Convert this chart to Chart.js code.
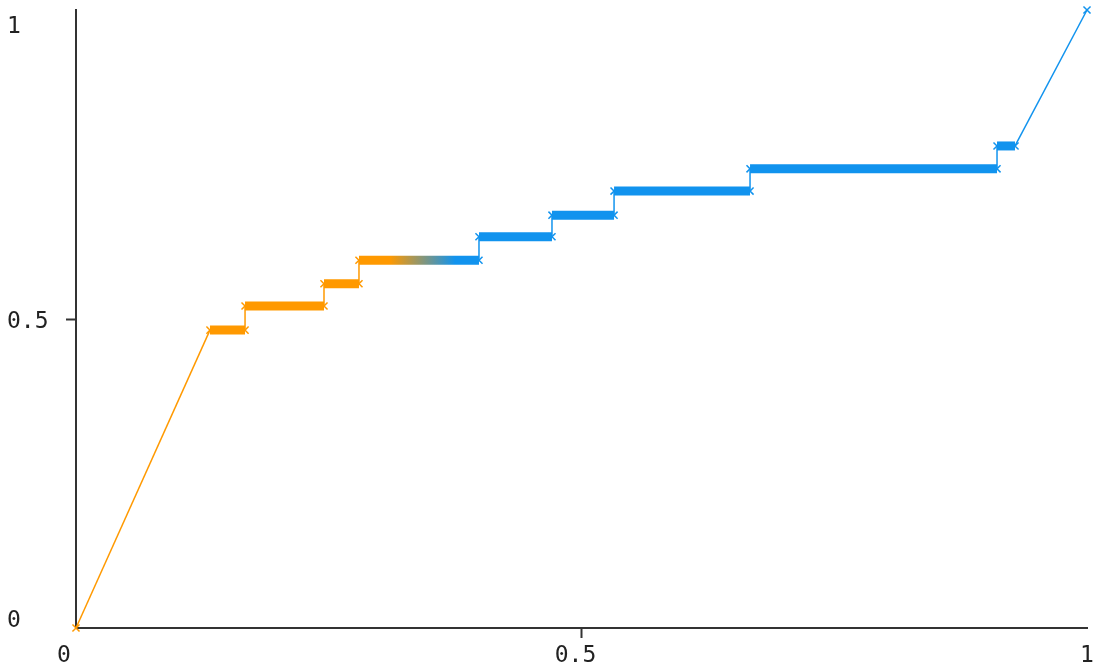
<!DOCTYPE html>
<html>
<head>
<meta charset="utf-8">
<script src="https://cdn.jsdelivr.net/npm/chart.js@4.4.0/dist/chart.umd.min.js"></script>
<style>
  body { margin: 0; background: #fff; }
  canvas { display: block; }
</style>
</head>
<body>
<canvas id="myChart" width="1099" height="671"></canvas>
<script>
// curve corners
const curveX = [0, 0.1325, 0.1672, 0.1672, 0.2453, 0.2453, 0.2799, 0.2799, 0.3986, 0.3986, 0.4708, 0.4708, 0.5322, 0.5322, 0.6667, 0.6667, 0.911, 0.911, 0.9288, 1];
const curveY = [0, 0.482, 0.482, 0.521, 0.521, 0.557, 0.557, 0.595, 0.595, 0.633, 0.633, 0.668, 0.668, 0.707, 0.707, 0.743, 0.743, 0.780, 0.780, 1];
const tickValues = [0, 0.5, 1];
const tickLabels = ['0', '0.5', '1'];

const orange = '#ff9900';
const blue = '#1193ee';

var points = [];
for (let i = 0; i < curveX.length; i++) {
    points.push({x: curveX[i], y: curveY[i]});
}

var gradient = null;
getGradient = (chart) => {
    const area = chart.chartArea;
    if (!area) return orange;
    if (!gradient) {
        gradient = chart.ctx.createLinearGradient(area.left, 0, area.right, 0);
        gradient.addColorStop(0, orange);
        gradient.addColorStop(0.31, orange);
        gradient.addColorStop(0.375, blue);
        gradient.addColorStop(1, blue);
    }
    return gradient;
}

tickColor = (c) => c.tick && c.tick.value === 0.5 ? '#333' : 'rgba(0,0,0,0)';

// text of the ticks, drawn by hand so it can sit like the original
const tickText = {
    id: 'tickText',
    afterDraw(chart) {
        const ctx = chart.ctx;
        const xs = chart.scales.x;
        const ys = chart.scales.y;
        const yShift = [-1, 9, 23];
        const xShift = [-12, -6, 0];
        ctx.save();
        ctx.font = '23px "DejaVu Sans Mono"';
        ctx.fillStyle = '#222';
        ctx.textBaseline = 'alphabetic';
        ctx.textAlign = 'left';
        for (let i = 0; i < tickValues.length; i++) {
            ctx.fillText(tickLabels[i], 7, ys.getPixelForValue(tickValues[i]) + yShift[i]);
        }
        ctx.textAlign = 'center';
        for (let i = 0; i < tickValues.length; i++) {
            ctx.fillText(tickLabels[i], xs.getPixelForValue(tickValues[i]) + xShift[i], 662);
        }
        ctx.restore();
    }
};

const ctx = document.getElementById('myChart');
new Chart(ctx, {
    type: 'scatter',
    data: {
        datasets: [{
            data: points,
            showLine: true,
            clip: false,
            borderWidth: 1.5,
            borderColor: (c) => getGradient(c.chart),
            pointBorderColor: (c) => getGradient(c.chart),
            pointBackgroundColor: 'rgba(0,0,0,0)',
            pointStyle: 'crossRot',
            pointRadius: 5,
            pointBorderWidth: 1.5,
            borderCapStyle: 'butt',
            segment: {
                borderWidth: (c) => c.p0.parsed.y === c.p1.parsed.y ? 9 : 1.5
            }
        }]
    },
    options: {
        responsive: false,
        animation: false,
        layout: { padding: { top: 10, right: 12, left: 0, bottom: 0 } },
        plugins: { legend: { display: false }, tooltip: { enabled: false } },
        scales: {
            x: {
                type: 'linear', min: 0, max: 1,
                ticks: { stepSize: 0.5, display: false },
                border: { color: '#333', width: 2 },
                grid: { drawOnChartArea: false, tickLength: 10, tickWidth: 2, tickColor: tickColor, color: tickColor },
                afterFit: (s) => { s.height = 43; }
            },
            y: {
                type: 'linear', min: 0, max: 1,
                ticks: { stepSize: 0.5, display: false },
                border: { color: '#333', width: 2 },
                grid: { drawOnChartArea: false, tickLength: 10, tickWidth: 2, tickColor: tickColor, color: tickColor },
                afterFit: (s) => { s.width = 76; }
            }
        }
    },
    plugins: [tickText]
});
</script>
</body>
</html>
